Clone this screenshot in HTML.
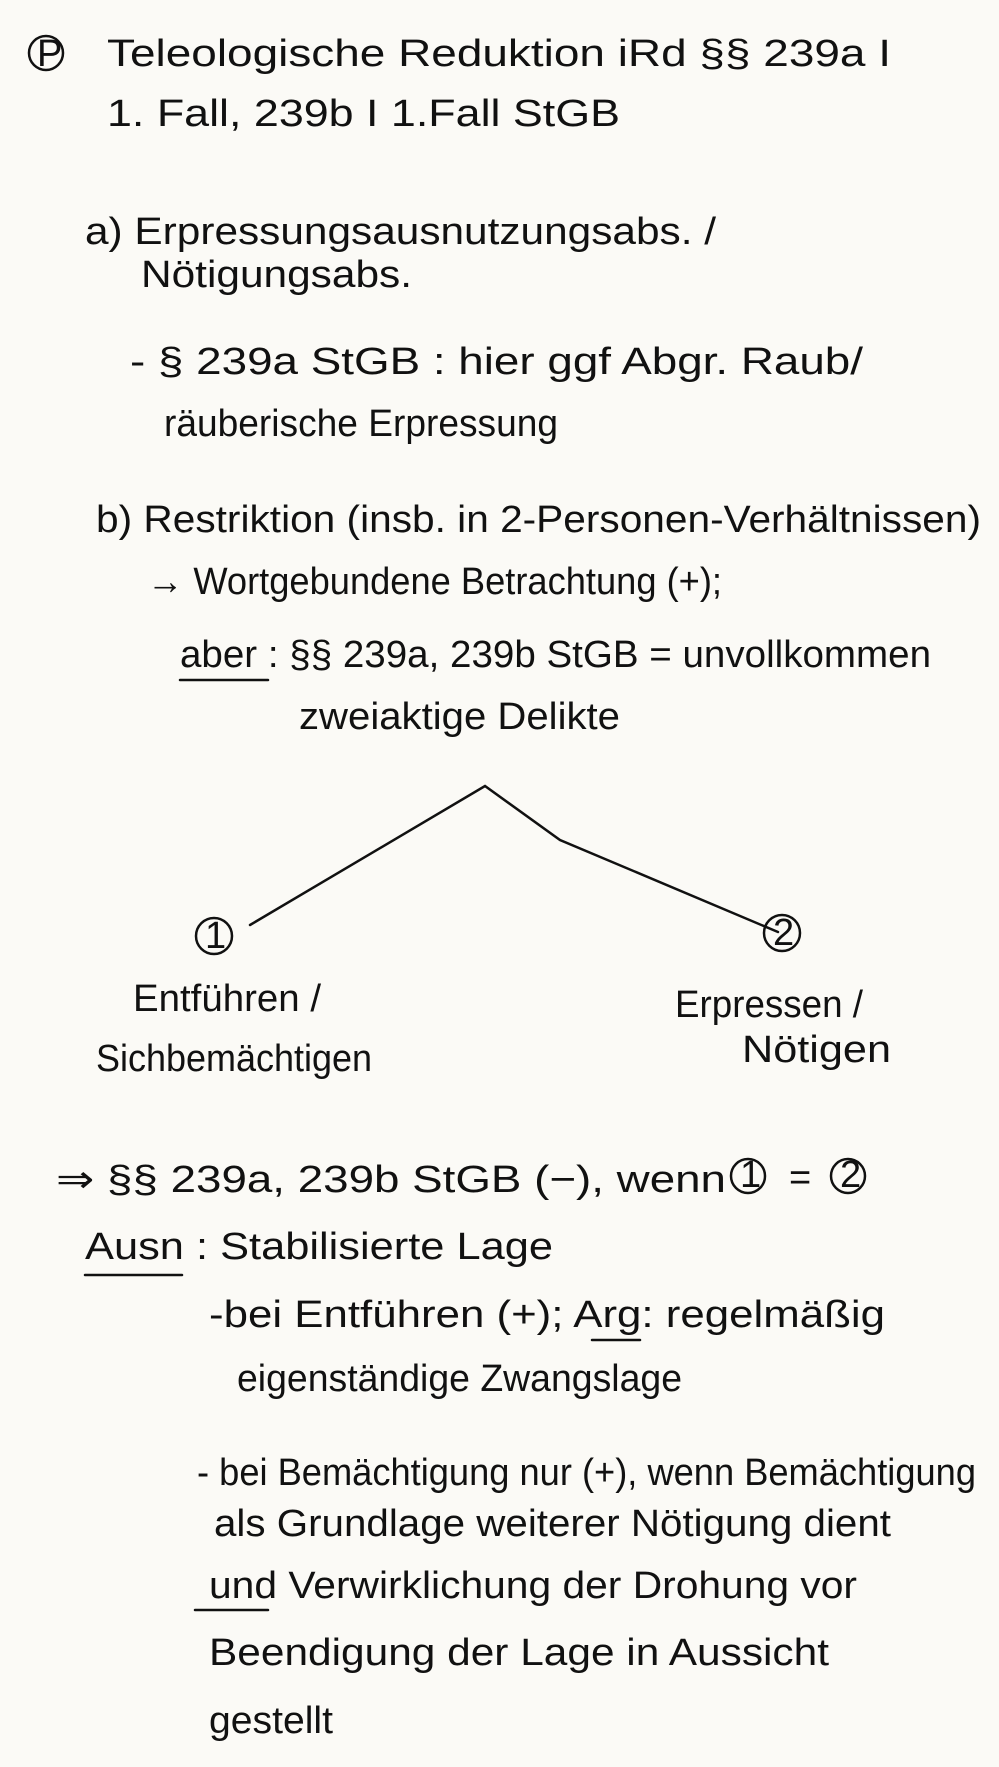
<!DOCTYPE html>
<html><head><meta charset="utf-8"><style>
html,body{margin:0;padding:0;background:#fbfaf6;}
svg{display:block}
text{font-family:"Liberation Sans","DejaVu Sans",sans-serif;font-size:38px;fill:#111;}
</style></head><body>
<svg width="999" height="1767" viewBox="0 0 999 1767" xmlns="http://www.w3.org/2000/svg">
<rect width="999" height="1767" fill="#fbfaf6"/>
<g stroke="#111" stroke-width="2.5" fill="none" stroke-linecap="round">
<circle cx="46" cy="53" r="17"/>
<polyline points="250,925 485,786 560,840 778,932"/>
<circle cx="214" cy="936" r="18"/>
<circle cx="782" cy="933" r="18"/>
<circle cx="748" cy="1176" r="17"/>
<circle cx="848" cy="1176" r="17"/>
<line x1="180" y1="680" x2="268" y2="680"/>
<line x1="85" y1="1275" x2="182" y2="1275"/>
<line x1="592" y1="1340" x2="640" y2="1340"/>
<line x1="195" y1="1610" x2="268" y2="1610"/>
</g>
<text x="37" y="66" font-size="30">P</text>
<text x="107" y="66" textLength="784" lengthAdjust="spacingAndGlyphs">Teleologische Reduktion iRd §§ 239a I</text>
<text x="107" y="126" textLength="513" lengthAdjust="spacingAndGlyphs">1. Fall, 239b I 1.Fall StGB</text>
<text x="85" y="244" textLength="631" lengthAdjust="spacingAndGlyphs">a) Erpressungsausnutzungsabs. /</text>
<text x="141" y="287" textLength="271" lengthAdjust="spacingAndGlyphs">Nötigungsabs.</text>
<text x="130" y="374" textLength="733" lengthAdjust="spacingAndGlyphs">- § 239a StGB : hier ggf Abgr. Raub/</text>
<text x="164" y="436" textLength="394" lengthAdjust="spacingAndGlyphs">räuberische Erpressung</text>
<text x="96" y="532" textLength="885" lengthAdjust="spacingAndGlyphs">b) Restriktion (insb. in 2-Personen-Verhältnissen)</text>
<text x="147" y="594" textLength="575" lengthAdjust="spacingAndGlyphs">→ Wortgebundene Betrachtung (+);</text>
<text x="180" y="667" textLength="751" lengthAdjust="spacingAndGlyphs">aber : §§ 239a, 239b StGB = unvollkommen</text>
<text x="299" y="729" textLength="321" lengthAdjust="spacingAndGlyphs">zweiaktige Delikte</text>
<text x="205" y="948" font-size="30">1</text>
<text x="773" y="945" font-size="30">2</text>
<text x="133" y="1011" textLength="188" lengthAdjust="spacingAndGlyphs">Entführen /</text>
<text x="96" y="1071" textLength="276" lengthAdjust="spacingAndGlyphs">Sichbemächtigen</text>
<text x="675" y="1017" textLength="188" lengthAdjust="spacingAndGlyphs">Erpressen /</text>
<text x="742" y="1062" textLength="149" lengthAdjust="spacingAndGlyphs">Nötigen</text>
<text x="56" y="1192" textLength="670" lengthAdjust="spacingAndGlyphs">⇒ §§ 239a, 239b StGB (−), wenn</text>
<text x="740" y="1187" font-size="28">1</text>
<text x="789" y="1190">=</text>
<text x="840" y="1187" font-size="28">2</text>
<text x="85" y="1259" textLength="468" lengthAdjust="spacingAndGlyphs">Ausn : Stabilisierte Lage</text>
<text x="209" y="1327" textLength="676" lengthAdjust="spacingAndGlyphs">-bei Entführen (+); Arg: regelmäßig</text>
<text x="237" y="1391" textLength="445" lengthAdjust="spacingAndGlyphs">eigenständige Zwangslage</text>
<text x="197" y="1485" textLength="779" lengthAdjust="spacingAndGlyphs">- bei Bemächtigung nur (+), wenn Bemächtigung</text>
<text x="214" y="1536" textLength="677" lengthAdjust="spacingAndGlyphs">als Grundlage weiterer Nötigung dient</text>
<text x="209" y="1598" textLength="648" lengthAdjust="spacingAndGlyphs">und Verwirklichung der Drohung vor</text>
<text x="209" y="1665" textLength="620" lengthAdjust="spacingAndGlyphs">Beendigung der Lage in Aussicht</text>
<text x="209" y="1733" textLength="124" lengthAdjust="spacingAndGlyphs">gestellt</text>
</svg>
</body></html>
